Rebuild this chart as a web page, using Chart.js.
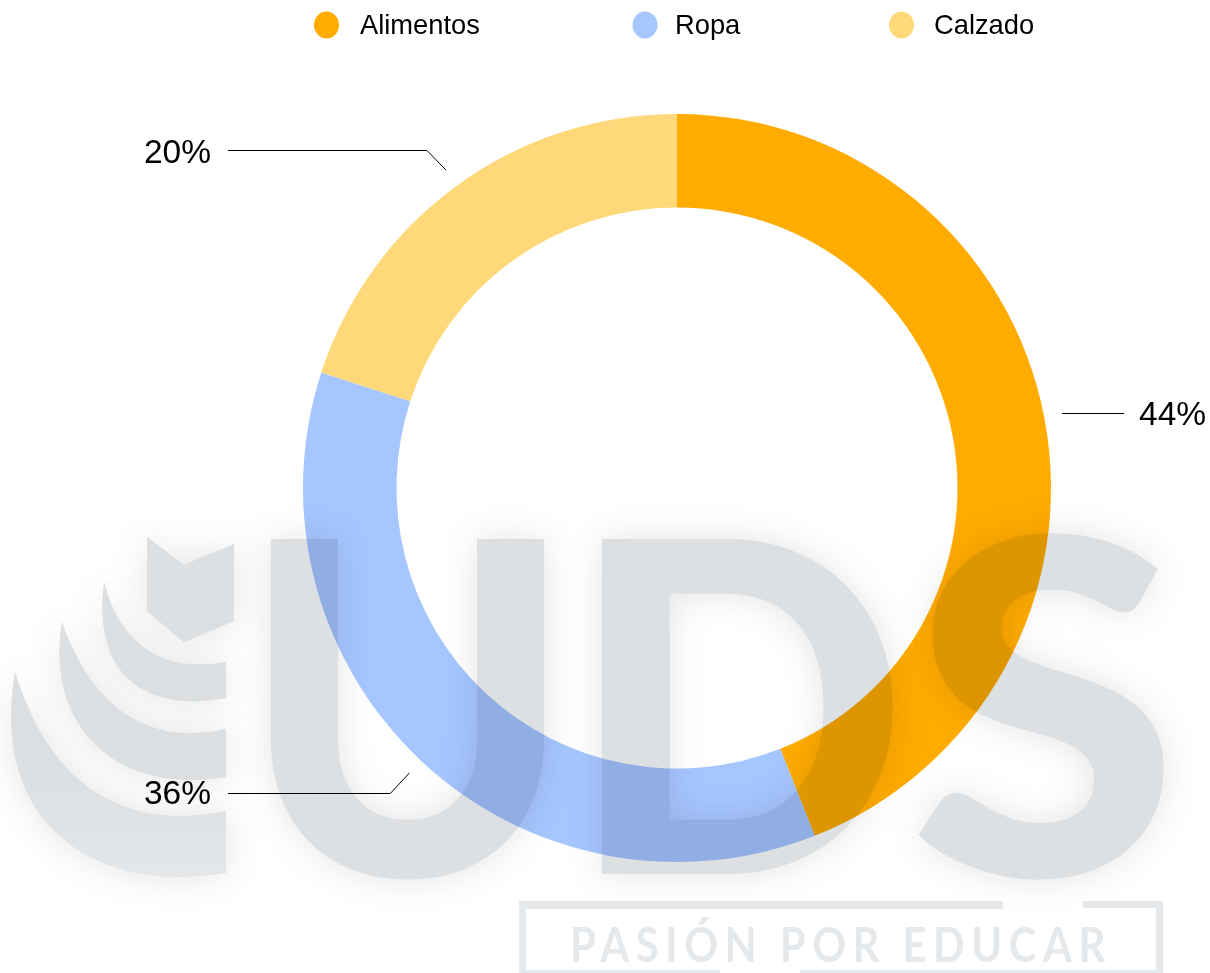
<!DOCTYPE html>
<html>
<head>
<meta charset="utf-8">
<title>Gastos</title>
<script src="https://cdn.jsdelivr.net/npm/chart.js@4"></script>
<style>
  html, body { margin: 0; padding: 0; background: #fff; overflow: hidden; }
  canvas { display: block; }
</style>
</head>
<body>
<canvas id="gastosChart" width="1210" height="973"></canvas>
<script>
const categories = ["Alimentos", "Ropa", "Calzado"];
const values = [44, 36, 20];
const colors = ["#FFAB00", "#A6C6FF", "#FFD87A"];
const watermarkLetters = ["U", "D", "S"];
const watermarkTagline = "PASIÓN POR EDUCAR";

const textFont = '"Liberation Sans", Arial, sans-serif';
const logoFont = '900 400px Lato, sans-serif';
const leaderGap = [18, 17, 19];
const labelNudge = [2.5, 1.5, 3];

// logo behind the ring
function drawLogoShapes(ctx) {
  // shield
  ctx.beginPath();
  ctx.moveTo(147, 537);
  ctx.lineTo(184, 565);
  ctx.lineTo(234, 544);
  ctx.lineTo(234, 621);
  ctx.lineTo(184, 642);
  ctx.lineTo(147, 611);
  ctx.closePath();
  ctx.fill();

  // the three swooshes
  ctx.beginPath();
  ctx.moveTo(104, 582);
  ctx.bezierCurveTo(116, 630, 150, 676, 226, 662);
  ctx.lineTo(226, 698);
  ctx.bezierCurveTo(150, 712, 92, 680, 104, 582);
  ctx.closePath();
  ctx.fill();

  ctx.beginPath();
  ctx.moveTo(62, 622);
  ctx.bezierCurveTo(85, 690, 135, 750, 226, 729);
  ctx.lineTo(226, 777);
  ctx.bezierCurveTo(120, 795, 45, 730, 62, 622);
  ctx.closePath();
  ctx.fill();

  ctx.beginPath();
  ctx.moveTo(15, 672);
  ctx.bezierCurveTo(45, 770, 110, 835, 226, 811);
  ctx.lineTo(226, 873);
  ctx.bezierCurveTo(90, 895, -10, 820, 15, 672);
  ctx.closePath();
  ctx.fill();
}

function fitLetter(ctx, letter, x0, y0, x1, y1) {
  ctx.save();
  ctx.font = logoFont;
  ctx.textAlign = "left";
  ctx.textBaseline = "alphabetic";
  const m = ctx.measureText(letter);
  const sx = (x1 - x0) / (m.actualBoundingBoxLeft + m.actualBoundingBoxRight);
  const sy = (y1 - y0) / (m.actualBoundingBoxAscent + m.actualBoundingBoxDescent);
  ctx.translate(x0 + m.actualBoundingBoxLeft * sx, y0 + m.actualBoundingBoxAscent * sy);
  ctx.scale(sx, sy);
  ctx.fillText(letter, 0, 0);
  ctx.restore();
}

function drawLetters(ctx) {
  fitLetter(ctx, watermarkLetters[0], 269, 535, 548, 883);
  fitLetter(ctx, watermarkLetters[1], 596, 535, 896, 874);
  fitLetter(ctx, watermarkLetters[2], 917, 533, 1170, 883);
}

// paint the logo flat on its own white layer, then multiply it over the ring
function buildWatermark(width, height) {
  const layer = document.createElement("canvas");
  layer.width = width;
  layer.height = height;
  const ctx = layer.getContext("2d");
  ctx.fillStyle = "#fff";
  ctx.fillRect(0, 0, width, height);

  const shade = ctx.createLinearGradient(0, 530, 0, 890);
  shade.addColorStop(0, "#DDE0E3");
  shade.addColorStop(0.65, "#DCDFE2");
  shade.addColorStop(1, "#E5E8EB");
  ctx.fillStyle = shade;
  ctx.shadowColor = "rgba(170,170,170,0.32)";
  ctx.shadowBlur = 36;
  drawLogoShapes(ctx);
  drawLetters(ctx);

  // second pass without shadow so the halo of one letter does not dirty the next
  ctx.shadowBlur = 0;
  ctx.shadowColor = "transparent";
  drawLogoShapes(ctx);
  drawLetters(ctx);

  // tagline box, open at the top and bottom
  ctx.fillStyle = "#E6E9EC";
  ctx.fillRect(519, 901, 484, 8);
  ctx.fillRect(1083, 901, 80, 7);
  ctx.fillRect(519, 901, 7, 72);
  ctx.fillRect(1156, 901, 7, 72);
  ctx.fillRect(519, 970, 201, 3);
  ctx.fillRect(800, 970, 363, 3);

  ctx.save();
  ctx.font = '700 48px Lato, sans-serif';
  ctx.letterSpacing = "7.5px";
  ctx.textAlign = "left";
  ctx.textBaseline = "alphabetic";
  ctx.translate(570, 962);
  ctx.scale(0.87, 1);
  ctx.fillText(watermarkTagline, 0, 0);
  ctx.restore();
  return layer;
}

const watermarkPlugin = {
  id: "watermark",
  beforeDraw(chart) {
    const ctx = chart.ctx;
    ctx.save();
    ctx.fillStyle = "#fff";
    ctx.fillRect(0, 0, chart.width, chart.height);
    ctx.restore();
  },
  afterDatasetsDraw(chart) {
    const ctx = chart.ctx;
    ctx.save();
    ctx.globalCompositeOperation = "multiply";
    ctx.drawImage(buildWatermark(chart.width, chart.height), 0, 0);
    ctx.restore();
  },
};

// percentages and their leader lines hang off the arcs
const calloutPlugin = {
  id: "callouts",
  afterDraw(chart) {
    const ctx = chart.ctx;
    const arcs = chart.getDatasetMeta(0).data;
    ctx.save();
    ctx.strokeStyle = "#000";
    ctx.lineWidth = 1;
    ctx.fillStyle = "#000";
    ctx.font = "33.5px " + textFont;
    ctx.textBaseline = "middle";

    arcs.forEach(function (arc, i) {
      const p = arc.getProps(["x", "y", "startAngle", "endAngle", "outerRadius"], true);
      const mid = (p.startAngle + p.endAngle) / 2;
      const ax = p.x + Math.cos(mid) * (p.outerRadius + leaderGap[i]);
      const ay = p.y + Math.sin(mid) * (p.outerRadius + leaderGap[i]);
      const label = values[i] + "%";

      ctx.beginPath();
      if (ax > p.x) {
        const y = Math.round(ay) - 1.5;
        ctx.moveTo(Math.round(ax), y);
        ctx.lineTo(1124, y);
        ctx.stroke();
        ctx.textAlign = "left";
        ctx.fillText(label, 1139, y + labelNudge[i]);
      } else {
        const up = ay < p.y;
        const y = Math.round(ay + (up ? -20 : 20)) + 0.5;
        ctx.moveTo(ax, ay);
        ctx.lineTo(ax - 19, y);
        ctx.lineTo(228, y);
        ctx.stroke();
        ctx.textAlign = "right";
        ctx.fillText(label, 211, y + labelNudge[i]);
      }
    });
    ctx.restore();
  },
};

const legendPlugin = {
  id: "topLegend",
  afterDraw(chart) {
    const ctx = chart.ctx;
    const dotX = [326.5, 645, 901.5];
    const textX = [360, 675, 934];
    ctx.save();
    ctx.font = "27.3px " + textFont;
    ctx.textAlign = "left";
    ctx.textBaseline = "middle";
    chart.data.labels.forEach(function (name, i) {
      ctx.fillStyle = chart.data.datasets[0].backgroundColor[i];
      ctx.beginPath();
      ctx.ellipse(dotX[i], 25, 12.5, 13.5, 0, 0, Math.PI * 2);
      ctx.fill();
      ctx.fillStyle = "#000";
      ctx.fillText(name, textX[i], 26);
    });
    ctx.restore();
  },
};

const gastosChart = new Chart(document.getElementById("gastosChart").getContext("2d"), {
  type: "doughnut",
  data: {
    labels: categories,
    datasets: [
      {
        data: values,
        backgroundColor: colors,
        borderWidth: 0,
      },
    ],
  },
  options: {
    responsive: false,
    animation: false,
    cutout: "75%",
    layout: {
      padding: { top: 114, bottom: 111, left: 303, right: 159 },
    },
    plugins: {
      legend: { display: false },
      tooltip: { enabled: false },
    },
  },
  plugins: [watermarkPlugin, calloutPlugin, legendPlugin],
});
</script>
</body>
</html>
